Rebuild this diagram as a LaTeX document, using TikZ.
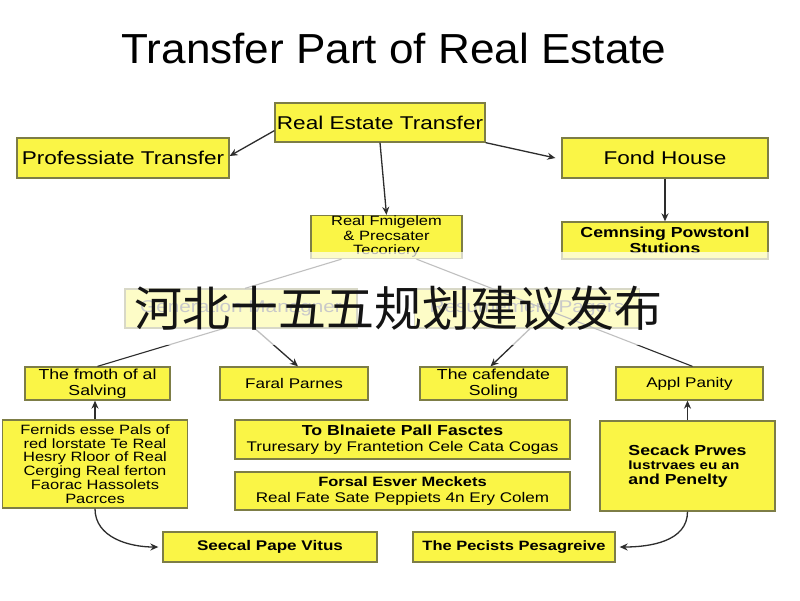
\documentclass[tikz,border=0pt]{standalone}
\usepackage{fontspec}
\setmainfont{Liberation Sans}[FakeStretch=1.22]
\newfontfamily\titlefont{Liberation Sans}[FakeStretch=1.05]
\newfontfamily\cjk{Noto Sans CJK SC}
\usetikzlibrary{arrows.meta}
\definecolor{boxfill}{RGB}{250,245,70}
\definecolor{boxline}{RGB}{125,125,70}
\definecolor{linkc}{RGB}{45,45,45}
\newcommand{\fs}[2]{\fontsize{#1}{#2}\selectfont}
\tikzset{
 box/.style={draw=boxline, line width=1.3pt, fill=boxfill, inner sep=0pt, align=center, text=black},
 arr/.style={draw=linkc, line width=1.3pt, -{Stealth[length=8pt,width=7pt]}},
 plain/.style={draw=linkc, line width=1.1pt},
 big/.style={font=\fs{18.5}{20}},
}
\begin{document}
\begin{tikzpicture}[x=1pt,y=-1pt]
\useasboundingbox (0,0) rectangle (800,600);
\fill[white] (0,0) rectangle (800,600);

\node[font=\titlefont\fs{42}{44}] (title) at (394,48) {Transfer Part of Real Estate};

\node[box, big, minimum width=210pt, minimum height=39pt] (ret) at (380,122.5) {Real Estate Transfer};
\node[box, big, minimum width=212pt, minimum height=40pt] (prof) at (123,158) {Professiate Transfer};
\node[box, big, minimum width=206pt, minimum height=40pt] (fond) at (665,158) {Fond House};
\node[box, font=\fs{13.5}{14.5}, minimum width=151pt, minimum height=43pt] (rfm) at (386.5,237) {Real Fmigelem\\ \& Precsater\\ Tecoriery};
\node[box, font=\fs{14.5}{16}\bfseries, minimum width=206pt, minimum height=37pt] (cem) at (665,240.5) {Cemnsing Powstonl\\ Stutions};

\node[box, font=\fs{17}{19}, text=black!70, minimum width=232pt, minimum height=39pt] (gen) at (241,308.5) {Generation Managner};
\node[box, font=\fs{17}{19}, text=black!70, minimum width=225pt, minimum height=39pt] (res) at (527,308.5) {Resumement Pagers};

\node[box, font=\fs{14.5}{15.5}, minimum width=145pt, minimum height=33pt] (fmoth) at (97.5,383.5) {The fmoth of al\\ Salving};
\node[box, font=\fs{14}{15}, minimum width=148pt, minimum height=33pt] (faral) at (294,383.5) {Faral Parnes};
\node[box, font=\fs{14.5}{15.5}, minimum width=147pt, minimum height=33pt] (caf) at (493.5,383.5) {The cafendate\\ Soling};
\node[box, font=\fs{14}{15}, minimum width=147pt, minimum height=33pt] (appl) at (689.5,383.5) {Appl Panity};

\node[box, font=\fs{13.5}{13.8}, minimum width=185pt, minimum height=88pt] (bigl) at (95,464) {Fernids esse Pals of\\ red lorstate Te Real\\ Hesry Rloor of Real\\ Cerging Real ferton\\ Faorac Hassolets\\ Pacrces};
\node[box, font=\fs{14}{16.5}, minimum width=335pt, minimum height=39pt] (blna) at (402.5,439.5) {{\fs{14.5}{16.5}\bfseries To Blnaiete Pall Fasctes}\\ Truresary by Frantetion Cele Cata Cogas};
\node[box, font=\fs{14}{16.5}, minimum width=335pt, minimum height=38pt] (forsal) at (402.5,491) {{\fs{13.5}{16.5}\bfseries Forsal Esver Meckets}\\ Real Fate Sate Peppiets 4n Ery Colem};
\node[box, align=left, font=\fs{14.5}{14.5}\bfseries, minimum width=175pt, minimum height=90pt] (secack) at (687.5,466) {Secack Prwes\\ {\fs{12.5}{14.5}Iustrvaes eu an}\\ and Penelty};

\node[box, font=\fs{14}{16}\bfseries, minimum width=214pt, minimum height=30pt] (seecal) at (270,547) {Seecal Pape Vitus};
\node[box, font=\fs{13.5}{16}\bfseries, minimum width=202pt, minimum height=30pt] (pecists) at (514,547) {The Pecists Pesagreive};

% connectors
\draw[arr] ([yshift=12pt]ret.south west) -- ([yshift=2pt]prof.east);
\draw[arr] (ret.south east) -- ([xshift=-6pt]fond.west);
\draw[arr] (ret.south) -- (rfm.north);
\draw[arr] (fond.south) -- (cem.north);
\draw[plain] ([xshift=-45pt]rfm.south) -- ([xshift=4pt]gen.north);
\draw[plain] ([xshift=30pt]rfm.south) -- ([xshift=3pt]appl.north);
\draw[plain] ([xshift=-18pt]gen.south) -- (fmoth.north);
\draw[arr] ([xshift=14pt]gen.south) -- ([xshift=4pt]faral.north);
\draw[arr] ([xshift=3pt]res.south) -- ([xshift=-3pt]caf.north);
\draw[arr] (bigl.north) -- (bigl.north |- fmoth.south);
\draw[arr] (secack.north) -- (secack.north |- appl.south);
\draw[arr] (bigl.south) to[out=-90,in=180] ([xshift=-4pt]seecal.west);
\draw[arr] (secack.south) to[out=-90,in=0] ([xshift=4pt]pecists.east);

% translucent band
\fill[white, opacity=0.7] (0,252) rectangle (800,345);

\node[font=\cjk\fs{48}{52}, text=black!92] (wm) at (398,308) {河北十五五规划建议发布};
\end{tikzpicture}
\end{document}
